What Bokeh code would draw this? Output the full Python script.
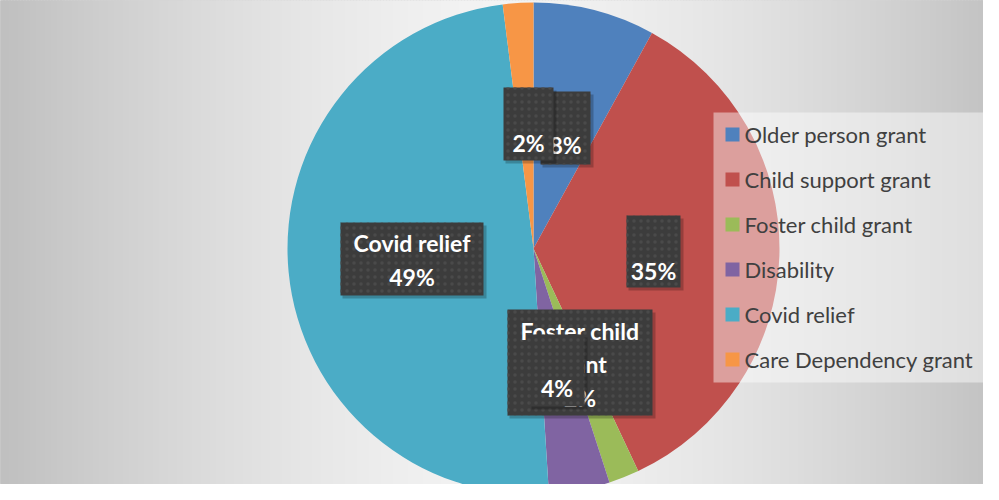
from bokeh.plotting import figure
from bokeh.models import Range1d
from bokeh.core.properties import value
from bokeh.embed import file_html
from bokeh.resources import INLINE
import math

# ---- data ----
categories = ["Older person grant", "Child support grant", "Foster child grant",
              "Disability", "Covid relief", "Care Dependency grant"]
shares = [8, 35, 2, 4, 49, 2]
colors = ["#4F81BD", "#C0504D", "#9BBB59", "#8064A2", "#4BACC6", "#F79646"]

# ---- layout (page pixel coords) ----
W, H = 983, 484
def X(px): return px - 8
def Y(py): return 492 - py

CX, CY, R = X(541), Y(256), 246

p = figure(width=W, height=H, x_range=Range1d(0, W), y_range=Range1d(0, H),
           output_backend="svg", toolbar_location=None,
           x_axis_location=None, y_axis_location=None, min_border=0)
p.grid.visible = False
p.outline_line_color = "#d4d4d4"
p.background_fill_color = "#e8e8e8"
p.border_fill_color = "white"

# background gradient (vertical strips)
step = 3
lefts, rights, cols = [], [], []
for i in range(0, W + step, step):
    xc = i + step / 2 + 8
    t = min(1.0, abs(xc - 515) / 500.0)
    v = int(round(243 - (243 - 192) * t ** 1.5))
    lefts.append(i); rights.append(i + step + 1)
    cols.append("#%02x%02x%02x" % (v, v, v))
p.quad(left=lefts, right=rights, top=H, bottom=0, fill_color=cols,
       line_color=cols, line_width=1)

# pie
total = float(sum(shares))
starts, ends = [], []
cum = 0.0
for s in shares:
    starts.append(math.pi / 2 - 2 * math.pi * cum / total)
    cum += s
    ends.append(math.pi / 2 - 2 * math.pi * cum / total)
p.wedge(x=CX, y=CY, radius=R, start_angle=starts, end_angle=ends,
        direction="clock", fill_color=colors, line_color=None)

# data labels (drawn in stacking order)
label_layout = [
    (0, False, (548, 99, 598, 172), 152, 34),
    (1, False, (634, 223, 688, 295), 278, 34),
    (2, True, (515, 317, 660, 423), 338, 33.5),
    (3, False, (537, 342, 592, 414), 395, 34),
    (4, True, (348, 230, 491, 303), 250, 34),
    (5, False, (511, 95, 561, 168), 150, 34),
]
name_lines = {2: ["Foster child", "grant"], 4: ["Covid relief"]}
for idx, show_name, (l, t, r, b), ty, gap in label_layout:
    p.quad(left=[X(l) + 2], right=[X(r) + 3], top=[Y(t) - 3], bottom=[Y(b) - 3],
           fill_color="black", fill_alpha=0.22, line_color=None)
    p.quad(left=[X(l)], right=[X(r)], top=[Y(t)], bottom=[Y(b)],
           fill_color="#3c3c3c", line_color=None,
           hatch_pattern=".", hatch_color="#4a4a4a", hatch_scale=7, hatch_weight=1.2)
    lines = (name_lines.get(idx, [categories[idx]]) if show_name else []) + ["%d%%" % shares[idx]]
    ys = [ty + k * gap for k in range(len(lines))]
    xs = [X((l + r) / 2)] * len(lines)
    p.text(x=xs, y=[Y(v) for v in ys], text=lines, text_font=value("Lato"),
           text_font_style="bold", text_font_size="23px", text_color="white",
           text_align="center", text_baseline="middle")

# legend
p.quad(left=[X(721)], right=[X(996)], top=[Y(120)], bottom=[Y(390)],
       fill_color="white", fill_alpha=0.45, line_color=None)
leg_y = [Y(142 + 45 * i) for i in range(len(categories))]
p.rect(x=[X(740)] * len(categories), y=leg_y, width=14, height=14,
       fill_color=colors, line_color=None)
p.text(x=[X(752)] * len(categories), y=leg_y, text=categories,
       text_font=value("Lato"), text_font_size="22px", text_color="#404040",
       text_align="left", text_baseline="middle")

open("out.html", "w").write(file_html(p, INLINE))
